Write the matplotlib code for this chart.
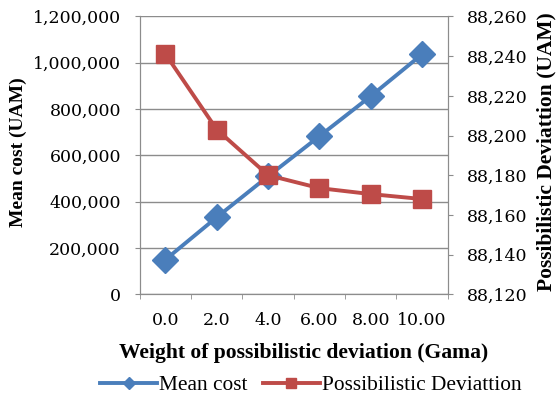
import matplotlib.pyplot as plt
from matplotlib.ticker import FuncFormatter

# Mean cost and possibilistic deviation against the deviation weight (Gama)
gama_labels = ['0.0', '2.0', '4.0', '6.00', '8.00', '10.00']
mean_cost = [150000, 333000, 510000, 683000, 856000, 1037000]
poss_dev = [88241, 88203, 88180, 88173.5, 88170.5, 88168]

BLUE = '#4A7EBB'
RED = '#BE4B48'
GRID = '#8C8C8C'
TICK_FONT = ['DejaVu Serif']
LABEL_FONT = ['Liberation Serif', 'DejaVu Serif']

plt.rcParams['font.family'] = LABEL_FONT

fig = plt.figure(figsize=(5.57, 4.01), dpi=100)
ax = fig.add_axes([0.251, 0.266, 0.553, 0.693])
ax2 = ax.twinx()

x = list(range(len(gama_labels)))
l1, = ax.plot(x, mean_cost, color=BLUE, lw=2.8, marker='D', ms=13,
              mec=BLUE, label='Mean cost', zorder=3)
l2, = ax2.plot(x, poss_dev, color=RED, lw=2.8, marker='s', ms=13.5,
               mec=RED, label='Possibilistic Deviattion', zorder=3)

ax.set_xlim(-0.5, len(x) - 0.5)
ax.set_ylim(0, 1200000)
ax.set_yticks(range(0, 1200001, 200000))
ax.yaxis.set_major_formatter(FuncFormatter(lambda v, p: f'{int(v):,}'))
ax2.set_ylim(88120, 88260)
ax2.set_yticks(range(88120, 88261, 20))
ax2.yaxis.set_major_formatter(FuncFormatter(lambda v, p: f'{int(v):,}'))

# category labels centred, tick marks between categories
ax.set_xticks(x)
ax.set_xticklabels(gama_labels)
ax.tick_params(axis='x', which='major', length=0, pad=13)
ax.set_xticks([i - 0.5 for i in range(len(x) + 1)], minor=True)
ax.tick_params(axis='x', which='minor', length=3.6, color=GRID)

ax.tick_params(axis='y', length=3.6, color=GRID, pad=10)
ax2.tick_params(axis='y', length=3.6, color=GRID, pad=10)
for a in (ax, ax2):
    for s in a.spines.values():
        s.set_color(GRID)
    a.spines['top'].set_visible(False)
for lab in ax.get_xticklabels() + ax.get_yticklabels() + ax2.get_yticklabels():
    lab.set_fontfamily(TICK_FONT)
    lab.set_fontsize(12.5)

ax.yaxis.grid(True, color=GRID, lw=1)
ax.set_axisbelow(True)

# axis titles placed directly in figure pixels
W, H = 557, 401
fig.text(18 / W, 1 - 152 / H, 'Mean cost (UAM)', rotation=90, ha='center',
         va='center', fontsize=14, fontweight='bold')
fig.text(546 / W, 1 - 152 / H, 'Possibilistic Deviattion (UAM)', rotation=90,
         ha='center', va='center', fontsize=15.5, fontweight='bold')
fig.text(304 / W, 1 - 353 / H, 'Weight of possibilistic deviation (Gama)',
         ha='center', va='center', fontsize=15.6, fontweight='bold')

fig.legend(handles=[l1, l2], loc='center', bbox_to_anchor=(311 / W, 1 - 385 / H),
           ncol=2, frameon=False, fontsize=15.4, handlelength=2.66,
           columnspacing=0.7, handletextpad=0.1, markerscale=0.5,
           borderpad=0, borderaxespad=0)

fig.savefig('out.png', dpi=100)
